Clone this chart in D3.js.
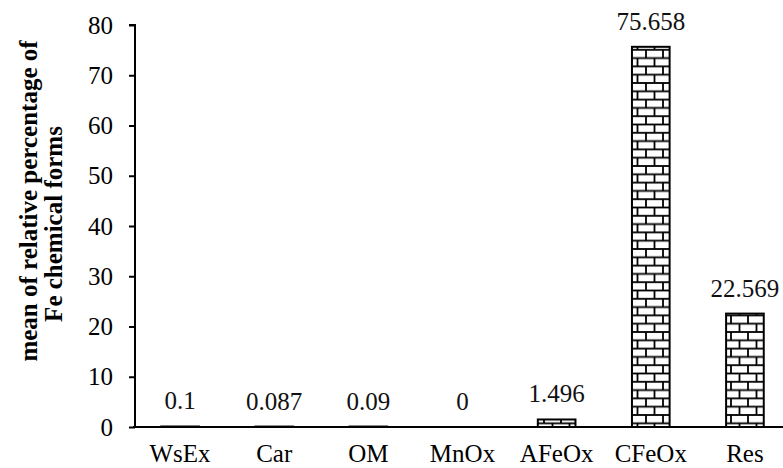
<!DOCTYPE html>
<html>
<head>
<meta charset="utf-8">
<script src="https://cdn.jsdelivr.net/npm/d3@7"></script>
<style>
	body { margin: 0; background: #fff; }
</style>
</head>
<body>
<div id="fe-chart"></div>
<script>
// chart data
const categories = ["WsEx", "Car", "OM", "MnOx", "AFeOx", "CFeOx", "Res"];
const values = [0.1, 0.087, 0.09, 0, 1.496, 75.658, 22.569];
const value_labels = ["0.1", "0.087", "0.09", "0", "1.496", "75.658", "22.569"];
const y_ticks = [0, 10, 20, 30, 40, 50, 60, 70, 80];
const y_title = ["mean of relative percentage of", "Fe chemical forms"];

const width = 783, height = 468;
const font = "'Liberation Serif', Tinos, 'Times New Roman', 'DejaVu Serif', serif";

const svg = d3.select("#fe-chart")
	.append("svg")
		.attr("width", width)
		.attr("height", height)
		.style("font-family", font);

// brick pattern
const bw = 17, bh = 8.3;
const pat = svg.append("defs").append("pattern")
	.attr("id", "bricks")
	.attr("patternUnits", "userSpaceOnUse")
	.attr("width", bw)
	.attr("height", bh * 2);
pat.append("rect").attr("width", bw).attr("height", bh * 2).attr("fill", "#fff");
const brick_lines = [
	[0, 0, bw, 0], [0, bh, bw, bh], [0, bh * 2, bw, bh * 2],
	[0, 0, 0, bh], [bw, 0, bw, bh], [bw / 2, bh, bw / 2, bh * 2]
];
pat.selectAll("line").data(brick_lines).join("line")
	.attr("x1", d => d[0]).attr("y1", d => d[1])
	.attr("x2", d => d[2]).attr("y2", d => d[3])
	.attr("stroke", "#000")
	.attr("stroke-width", 1.8);

const x = d3.scalePoint()
	.domain(categories)
	.range([133, 792])
	.padding(0.5);
const bar_w = x.step() * 0.4;

const y = d3.scaleLinear()
	.domain([0, 80])
	.range([427, 25]);

// y axis
const y_axis = svg.append("g")
	.attr("transform", "translate(135,0)")
	.call(d3.axisLeft(y).tickValues(y_ticks).tickSize(6).tickPadding(16))
	.attr("font-family", null)
	.attr("font-size", null);
y_axis.select(".domain").attr("stroke-width", 2).attr("d", "M-6," + y(80) + "H0V" + y(0));
y_axis.selectAll(".tick line").attr("stroke-width", 2);
y_axis.selectAll("text")
	.style("font-family", font)
	.attr("font-size", 25)
	.attr("fill", "#000");

// bars
svg.selectAll(".bar")
	.data(categories)
	.join("rect")
		.attr("class", "bar")
		.attr("x", (d, i) => x(d) - bar_w / 2)
		.attr("y", (d, i) => y(values[i]))
		.attr("width", bar_w)
		.attr("height", (d, i) => y(0) - y(values[i]))
		.attr("fill", "url(#bricks)")
		.attr("stroke", (d, i) => values[i] > 0 ? "#000" : "none")
		.attr("stroke-width", 2);

// x axis line
svg.append("line")
	.attr("x1", 133).attr("x2", width)
	.attr("y1", y(0)).attr("y2", y(0))
	.attr("stroke", "#000")
	.attr("stroke-width", 2);

// value labels
svg.selectAll(".val")
	.data(categories)
	.join("text")
		.attr("class", "val")
		.attr("x", d => x(d))
		.attr("y", (d, i) => y(values[i]) - 17)
		.attr("text-anchor", "middle")
		.attr("font-size", 25)
		.attr("fill", "#111")
		.text((d, i) => value_labels[i]);

// category labels
svg.selectAll(".cat")
	.data(categories)
	.join("text")
		.attr("class", "cat")
		.attr("x", d => x(d))
		.attr("y", 462)
		.attr("text-anchor", "middle")
		.attr("font-size", 25)
		.attr("fill", "#000")
		.text(d => d);

// y title
svg.selectAll(".ytitle")
	.data(y_title)
	.join("text")
		.attr("class", "ytitle")
		.attr("transform", (d, i) => "translate(" + (37 + i * 25) + "," + (i == 0 ? 201 : 224) + ") rotate(-90)")
		.attr("text-anchor", "middle")
		.attr("font-size", 25)
		.attr("font-weight", "bold")
		.attr("fill", "#000")
		.text(d => d);
</script>
</body>
</html>
